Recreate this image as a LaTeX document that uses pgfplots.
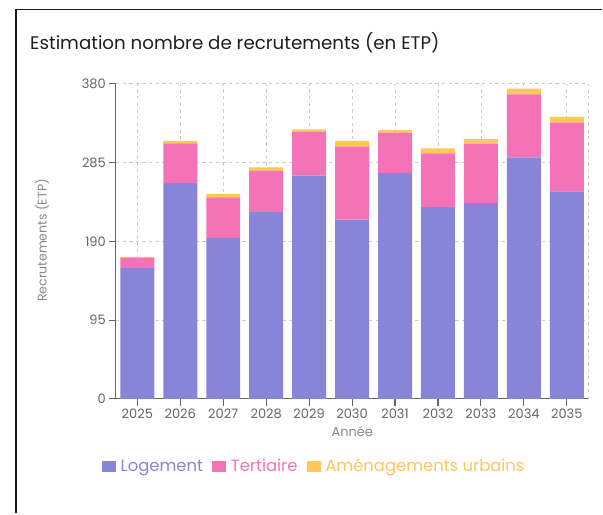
\documentclass[border=0pt]{standalone}
\usepackage{pgfplots}
\pgfplotsset{compat=1.18}
\usepackage{fontspec}
\setmainfont{Poppins}
\definecolor{cLog}{HTML}{8884D8}
\definecolor{cTer}{HTML}{F472B6}
\definecolor{cAme}{HTML}{FFC658}
\definecolor{axisgray}{HTML}{666666}
\definecolor{labgray}{HTML}{888888}
\definecolor{gridgray}{HTML}{CCCCCC}
\pgfplotstableread{
x Log Ter Ame
0 158 12 1
1 260 48 3
2 194 49 4
3 225 50 4
4 269 53 3
5 216 88 7
6 272 49 3
7 231 65 6
8 236 71 6
9 291 76 7
10 250 83 7
}\datatable
\begin{document}
\begin{tikzpicture}
\fill[white] (0,0) rectangle (452.25pt,385.5pt);
\draw[line width=1.1pt, color=black!90] (12pt,0pt) -- (12pt,378.4pt) -- (452.25pt,378.4pt);
\node[anchor=base west, inner sep=0pt, text=black!88, font=\fontsize{13.7pt}{16pt}\selectfont] at (22.5pt,348.5pt) {Estimation nombre de recrutements (en ETP)};
\begin{axis}[
  at={(87pt,86pt)}, anchor=south west,
  scale only axis, width=354.75pt, height=236.7pt,
  ybar stacked, bar width=25.5pt,
  xmin=-0.5, xmax=10.5, ymin=0, ymax=380,
  xtick={0,...,10},
  xticklabels={2025,2026,2027,2028,2029,2030,2031,2032,2033,2034,2035},
  ytick={0,95,190,285,380},
  axis x line*=bottom, axis y line*=left,
  axis line style={axisgray, line width=0.8pt, -},
  tick align=outside, major tick length=5pt,
  tick style={axisgray, line width=0.8pt},
  grid=major,
  major grid style={gridgray, line width=0.6pt, dash pattern=on 2.5pt off 2.5pt},
  /pgf/number format/assume math mode=true,
  ticklabel style={font=\fontsize{9.75pt}{11pt}\selectfont, text=axisgray},
  xticklabel style={yshift=1pt},
  yticklabel style={xshift=1pt},
  legend style={at={(0.4207,-0.2145)}, anchor=center, draw=none, fill=none,
    legend columns=3, font=\fontsize{12.3pt}{14pt}\selectfont,
    /tikz/every odd column/.append style={column sep=1.5pt},
    /tikz/every even column/.append style={column sep=5pt}},
  legend image code/.code={\fill[#1] (0pt,-3.94pt) rectangle (10.5pt,3.94pt);},
  legend cell align=left,
  clip=false,
]
\addplot[fill=cLog, draw=none] table[x=x, y=Log] {\datatable};
\addplot[fill=cTer, draw=none] table[x=x, y=Ter] {\datatable};
\addplot[fill=cAme, draw=none] table[x=x, y=Ame] {\datatable};
\draw[gridgray, line width=0.6pt, dash pattern=on 2.5pt off 2.5pt] (rel axis cs:1,0) -- (rel axis cs:1,1);
\legend{\textcolor{cLog}{Logement},\textcolor{cTer}{Tertiaire},\textcolor{cAme}{Aménagements urbains}}
\end{axis}
\node[rotate=90, text=labgray, font=\fontsize{9.4pt}{11pt}\selectfont] at (31.5pt,204.9pt) {Recrutements (ETP)};
\node[text=labgray, font=\fontsize{9.75pt}{11pt}\selectfont] at (264.5pt,61.7pt) {Année};
\end{tikzpicture}
\end{document}
